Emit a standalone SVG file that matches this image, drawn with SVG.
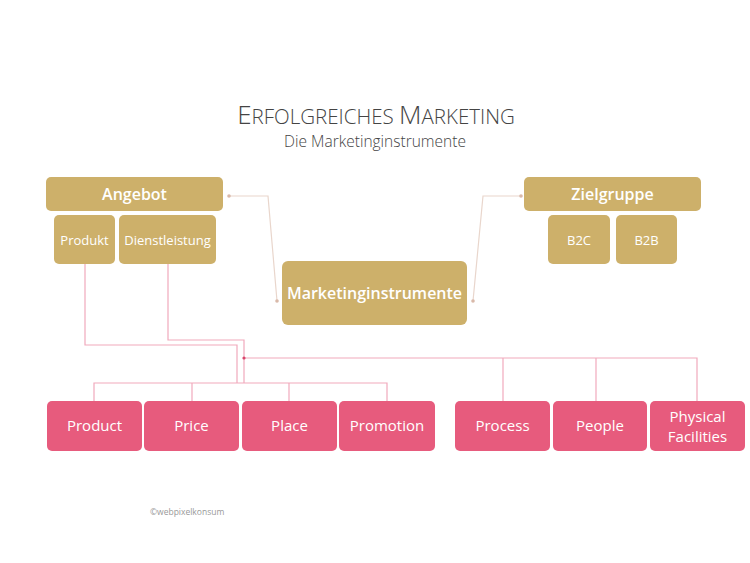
<svg xmlns="http://www.w3.org/2000/svg" width="750" height="563" viewBox="0 0 750 563">
<defs>
<style>
.gold{fill:#CDB06A}
.pink{fill:#E75B7D}
.t{font-family:"Open Sans","Liberation Sans",sans-serif;fill:#fff;text-anchor:middle}
.b{font-weight:600;font-size:16px}
.s{font-size:13px}
.m{font-size:15px}
.pl{fill:none;stroke:#F1A9BC;stroke-width:1.2}
.gl{fill:none;stroke:#E9D6CC;stroke-width:1.2}
</style>
<marker id="dot" viewBox="0 0 6 6" refX="3" refY="3" markerWidth="3" markerHeight="3"><circle cx="3" cy="3" r="3" fill="#D9B9A9"/></marker>
</defs>
<rect width="750" height="563" fill="#fff"/>
<g id="title" font-family="'Open Sans','Liberation Sans',sans-serif" fill="#444" text-anchor="middle" font-weight="300">
<text x="376" y="124" font-size="26">E<tspan font-size="20.5">RFOLGREICHES </tspan>M<tspan font-size="20.5">ARKETING</tspan></text>
<text x="375" y="147" font-size="15.5">Die Marketinginstrumente</text>
</g>
<g id="connectors">
<polyline class="gl" points="229,196 268,196 277,301" marker-start="url(#dot)" marker-end="url(#dot)"/>
<polyline class="gl" points="473,301 483,196 521,196" marker-start="url(#dot)" marker-end="url(#dot)"/>
<polyline class="pl" points="85,264 85,345 237,345 237,383"/>
<polyline class="pl" points="168,264 168,340 244,340 244,383"/>
<polyline class="pl" points="94,401 94,383 387,383 387,401"/>
<line class="pl" x1="192" y1="383" x2="192" y2="401"/>
<line class="pl" x1="289" y1="383" x2="289" y2="401"/>
<polyline class="pl" points="244,358 697,358 697,401"/>
<line class="pl" x1="503" y1="358" x2="503" y2="401"/>
<line class="pl" x1="596" y1="358" x2="596" y2="401"/>
<circle cx="244" cy="358" r="1.6" fill="#D9456B"/>
</g>
<g id="angebot"><rect class="gold" x="46" y="177" width="177" height="34" rx="5"/><text class="t b" x="134.5" y="200">Angebot</text></g>
<g id="produkt"><rect class="gold" x="54" y="215" width="61" height="49" rx="5"/><text class="t s" x="84.5" y="245">Produkt</text></g>
<g id="dienstleistung"><rect class="gold" x="119" y="215" width="97" height="49" rx="5"/><text class="t s" x="167.5" y="245">Dienstleistung</text></g>
<g id="zielgruppe"><rect class="gold" x="524" y="177" width="177" height="34" rx="5"/><text class="t b" x="612.5" y="200">Zielgruppe</text></g>
<g id="b2c"><rect class="gold" x="548" y="215" width="62" height="49" rx="5"/><text class="t s" x="579" y="245">B2C</text></g>
<g id="b2b"><rect class="gold" x="616" y="215" width="61" height="49" rx="5"/><text class="t s" x="646.5" y="245">B2B</text></g>
<g id="marketinginstrumente"><rect class="gold" x="282" y="261" width="185" height="64" rx="6"/><text class="t b" x="374.5" y="299" font-size="15.5">Marketinginstrumente</text></g>
<g id="product"><rect class="pink" x="47" y="401" width="95" height="50" rx="5"/><text class="t m" x="94.5" y="431">Product</text></g>
<g id="price"><rect class="pink" x="144" y="401" width="95" height="50" rx="5"/><text class="t m" x="191.5" y="431">Price</text></g>
<g id="place"><rect class="pink" x="242" y="401" width="95" height="50" rx="5"/><text class="t m" x="289.5" y="431">Place</text></g>
<g id="promotion"><rect class="pink" x="339" y="401" width="96" height="50" rx="5"/><text class="t m" x="387" y="431">Promotion</text></g>
<g id="process"><rect class="pink" x="455" y="401" width="95" height="50" rx="5"/><text class="t m" x="502.5" y="431">Process</text></g>
<g id="people"><rect class="pink" x="553" y="401" width="94" height="50" rx="5"/><text class="t m" x="600" y="431">People</text></g>
<g id="physical"><rect class="pink" x="650" y="401" width="95" height="50" rx="5"/><text class="t m" x="697.5" y="422">Physical</text><text class="t m" x="697.5" y="442">Facilities</text></g>
<text x="150" y="515" font-family="'Open Sans','Liberation Sans',sans-serif" font-size="8.5" fill="#999">©webpixelkonsum</text>
</svg>
